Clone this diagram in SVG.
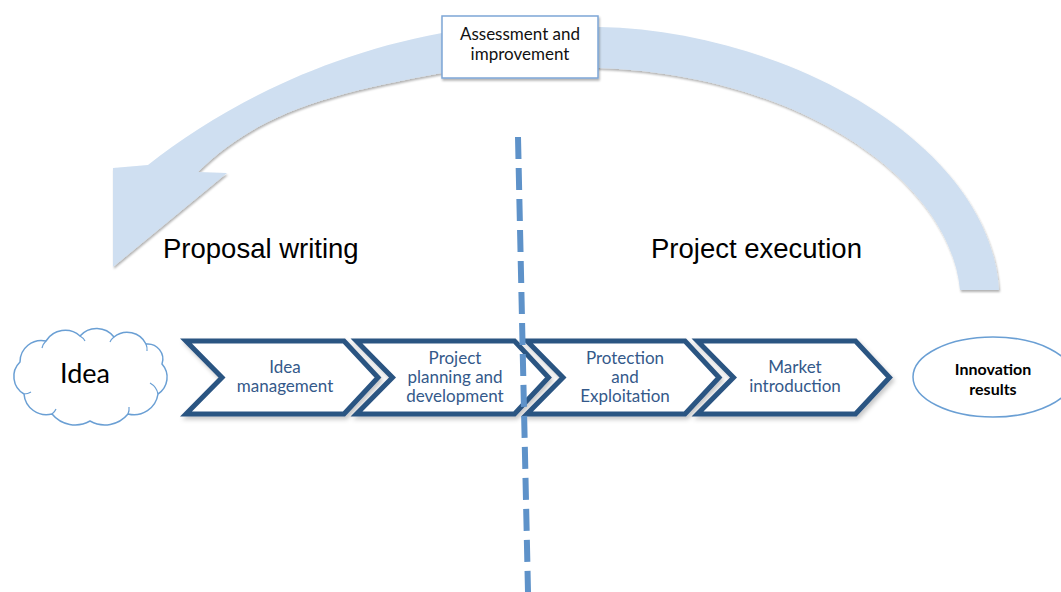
<svg xmlns="http://www.w3.org/2000/svg" width="1061" height="592" viewBox="0 0 1061 592">
<style>
.chev{fill:#ffffff;stroke:#2c5482;stroke-width:5;stroke-linejoin:miter;filter:url(#sh)}
.ct{font-family:Lato,"Open Sans",sans-serif;font-size:17px;fill:#34598a;text-anchor:middle}
.title{font-family:"Liberation Sans",Arial,sans-serif;font-size:27.5px;fill:#000}
.bt{font-family:Lato,"Open Sans",sans-serif;font-size:17px;fill:#111;text-anchor:middle}
.cl{fill:none;stroke:#6a9fd4;stroke-width:1.2}
</style>
<defs>
<filter id="sh" x="-10%" y="-10%" width="130%" height="140%">
<feDropShadow dx="2" dy="3" stdDeviation="2" flood-color="#000" flood-opacity="0.22"/>
</filter>
<filter id="sh2" x="-10%" y="-10%" width="130%" height="140%">
<feDropShadow dx="1" dy="2" stdDeviation="1.2" flood-color="#000" flood-opacity="0.3"/>
</filter>
</defs>
<g id="loop-arrow">
<path d="M999,290 C990,140 780,30 599,27 C540,24 490,27 442,33 C312,57 213,114 148,165 L113,168 L113,267 L227,173 L198,172 C258,112 332,93 442,73 C490,70 550,67 599,68 C800,75 950,180 960,290 Z" fill="#cfdff1" filter="url(#sh2)"/>
</g>
<g id="assessment">
<rect x="442" y="16" width="156" height="62" fill="#ffffff" stroke="#7ea6d6" stroke-width="1.5" filter="url(#sh2)"/>
<text class="bt" x="520" y="40">Assessment and</text>
<text class="bt" x="520" y="60">improvement</text>
</g>
<g id="title-proposal"><text class="title" x="163" y="258">Proposal writing</text></g>
<g id="title-execution"><text class="title" x="651" y="258">Project execution</text></g>
<g id="idea">
<path d="M24,394 A20.2,20.2 0 0 1 20,362 A21.4,21.4 0 0 1 46,341 A22.5,22.5 0 0 1 80,336 A22,22 0 0 1 114,337 A20.8,20.8 0 0 1 146,344 A15.2,15.2 0 0 1 162,364 A19.9,19.9 0 0 1 158,394 A24.3,24.3 0 0 1 128,414 A30,30 0 0 1 90,421 A30,30 0 0 1 52,414 A22.5,22.5 0 0 1 24,394 Z" fill="#ffffff" stroke="#6a9fd4" stroke-width="1.5"/>
<path class="cl" d="M24,394 A12,10 0 0 0 31,392 M52,414 A16,12 0 0 0 56,409 M128,414 A20,16 0 0 0 129,407 M158,394 A18,16 0 0 0 150,383 M146,344 A14,14 0 0 1 147,351 M114,337 A14,12 0 0 0 110,342 M80,336 A14,12 0 0 1 85,341 M46,341 A14,14 0 0 0 42,348"/>
<text x="85" y="383" font-family="Lato,'Open Sans',sans-serif" font-size="27px" fill="#000" text-anchor="middle">Idea</text>
</g>
<g id="idea-management">
<path class="chev" d="M186,341 L344,341 L378,377.5 L344,414 L186,414 L222,377.5 Z"/>
<text class="ct" x="285" y="373">Idea</text>
<text class="ct" x="285" y="392">management</text>
</g>
<g id="project-planning">
<path class="chev" d="M356.5,341 L514.5,341 L548.5,377.5 L514.5,414 L356.5,414 L392.5,377.5 Z"/>
<text class="ct" x="455" y="364">Project</text>
<text class="ct" x="455" y="383">planning and</text>
<text class="ct" x="455" y="402">development</text>
</g>
<g id="protection">
<path class="chev" d="M527,341 L685,341 L719,377.5 L685,414 L527,414 L563,377.5 Z"/>
<text class="ct" x="625" y="364">Protection</text>
<text class="ct" x="625" y="383">and</text>
<text class="ct" x="625" y="402">Exploitation</text>
</g>
<g id="market">
<path class="chev" d="M697.5,341 L855.5,341 L889.5,377.5 L855.5,414 L697.5,414 L733.5,377.5 Z"/>
<text class="ct" x="795" y="373">Market</text>
<text class="ct" x="795" y="392">introduction</text>
</g>
<g id="innovation">
<ellipse cx="993" cy="377" rx="80" ry="40" fill="#ffffff" stroke="#6a9fd4" stroke-width="1.5"/>
<text x="993" y="375" font-family="Lato,'Open Sans',sans-serif" font-size="16px" font-weight="bold" fill="#000" text-anchor="middle">Innovation</text>
<text x="993" y="395" font-family="Lato,'Open Sans',sans-serif" font-size="16px" font-weight="bold" fill="#000" text-anchor="middle">results</text>
</g>
<g id="connectors">
<line x1="518" y1="137" x2="528" y2="592" stroke="#5e92c9" stroke-width="6" stroke-dasharray="22 9"/>
</g>
</svg>
